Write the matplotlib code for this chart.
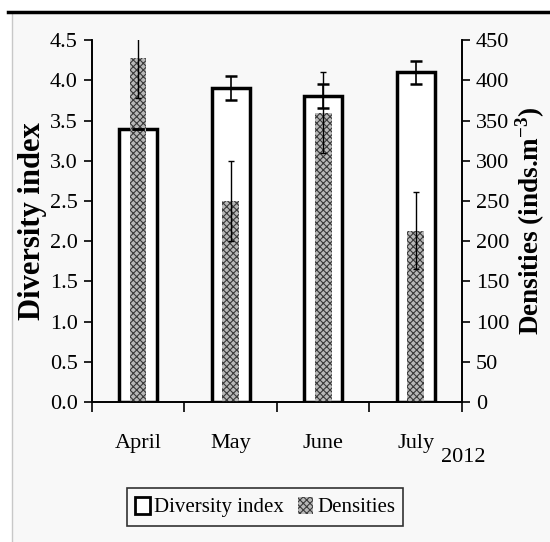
import matplotlib
matplotlib.use("Agg")
import matplotlib.pyplot as plt
import numpy as np
from matplotlib.lines import Line2D
from matplotlib.patches import Patch, Rectangle

plt.rcParams['font.family'] = ['Liberation Serif', 'DejaVu Serif']
plt.rcParams['hatch.linewidth'] = 0.8

months = ["April", "May", "June", "July"]
diversity = [3.4, 3.9, 3.8, 4.1]
diversity_err = [0.0, 0.15, 0.15, 0.14]
densities = [428, 250, 360, 213]
densities_err = [50, 50, 50, 48]
left_ticks = [0.0, 0.5, 1.0, 1.5, 2.0, 2.5, 3.0, 3.5, 4.0, 4.5]
right_ticks = [0, 50, 100, 150, 200, 250, 300, 350, 400, 450]

bg = '#f8f8f8'
W, H = 550, 542
fig = plt.figure(figsize=(5.5, 5.42), dpi=100, facecolor='white')
fig.add_artist(Rectangle((12 / W, 0), 1 - 12 / W, 1 - 12 / H, transform=fig.transFigure,
                         facecolor=bg, edgecolor='none', zorder=0))
fig.add_artist(Line2D([11.5 / W, 11.5 / W], [0, 1 - 12 / H], color='#c8c8c8', linewidth=1, zorder=1))
fig.add_artist(Line2D([8 / W, 1.0], [1 - 12 / H, 1 - 12 / H], color='black', linewidth=2.5, zorder=2))

ax = fig.add_axes([0.167, 0.258, 0.673, 0.668])
ax.set_facecolor('none')
x = np.arange(len(months))

ax.bar(x, diversity, width=0.41, facecolor='white', edgecolor='black', linewidth=2.5, zorder=2)
ax.set_ylim(0, 4.5)
ax.set_xlim(-0.5, 3.5)

ax2 = ax.twinx()
ax2.bar(x, densities, width=0.18, facecolor='#b8b8b8', edgecolor='#3a3a3a', hatch='xxxxx',
        linewidth=0, zorder=2)
ax2.errorbar(x, densities, yerr=densities_err, fmt='none', ecolor='black', elinewidth=1,
             capsize=2.5, capthick=1, zorder=3)
ax2.errorbar(x, np.array(diversity) * 100, yerr=np.array(diversity_err) * 100, fmt='none',
             ecolor='black', elinewidth=1.2, capsize=4, capthick=1.8, zorder=4)
ax2.set_ylim(0, 450)

for a in (ax, ax2):
    a.spines['top'].set_visible(False)
    for s in ('left', 'right', 'bottom'):
        a.spines[s].set_linewidth(1.2)

ax.set_yticks(left_ticks)
ax.set_yticklabels([f"{v:.1f}" for v in left_ticks], fontsize=16)
ax2.set_yticks(right_ticks)
ax2.set_yticklabels([str(v) for v in right_ticks], fontsize=16)
ax.set_xticks([-0.5, 0.5, 1.5, 2.5, 3.5])
ax.set_xticklabels([])
ax.set_xticks(x, minor=True)
ax.set_xticklabels(months, minor=True, fontsize=16)
ax.tick_params(axis='x', which='minor', length=0, pad=23)
ax.tick_params(axis='x', which='major', length=7, width=1.2, direction='out')
ax.tick_params(axis='y', length=6, width=1.2, pad=4)
ax2.tick_params(axis='y', length=6, width=1.2, pad=4)

ax.set_ylabel("Diversity index", fontsize=22, fontweight='bold', labelpad=2)
ax2.set_ylabel("Densities (inds.m$^{\\mathregular{-3}}$)", fontsize=19.5, fontweight='bold', labelpad=3)

fig.text(463 / W, 1 - 457 / H, "2012", fontsize=16, ha='center', va='center')

handles = [Patch(facecolor='white', edgecolor='black', linewidth=2),
           Patch(facecolor='#b8b8b8', edgecolor='#3a3a3a', hatch='xxxxx', linewidth=0)]
leg = fig.legend(handles, ["Diversity index", "Densities"], loc='center',
                 bbox_to_anchor=(265 / W, 1 - 507 / H), ncol=2, fontsize=15,
                 frameon=True, fancybox=False, edgecolor='black', facecolor=bg,
                 handlelength=0.7, handleheight=0.9, handletextpad=0.2, columnspacing=0.7,
                 borderpad=0.4)
leg.get_frame().set_linewidth(1.2)

fig.savefig("out.png", dpi=100, facecolor='white')
